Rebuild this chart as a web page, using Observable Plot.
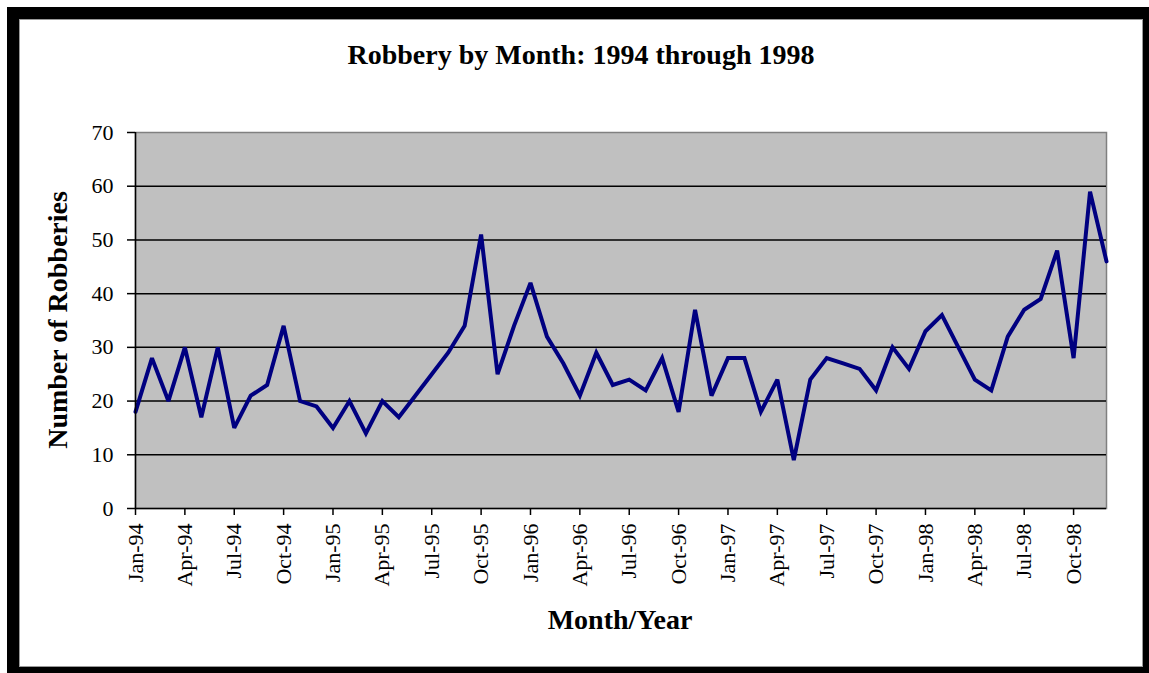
<!DOCTYPE html>
<html>
<head>
<meta charset="utf-8">
<script src="https://cdn.jsdelivr.net/npm/d3@7"></script>
<script src="https://cdn.jsdelivr.net/npm/@observablehq/plot@0.6"></script>
<style>
  body { margin: 0; background: #fff; }
  #wrap { position: relative; width: 1149px; height: 673px; overflow: hidden; background: #fff;
          font-family: "Liberation Serif", "Times New Roman", serif; color: #000; }
  #frame { position: absolute; left: 7px; top: 7px; width: 1142px; height: 666px; box-sizing: border-box;
           border-left: 12px solid #000; border-top: 12px solid #000; border-right: 6px solid #000; border-bottom: 6px solid #000; }
  #inner { position: absolute; left: 0; top: 0; right: 0; bottom: 0; border: 1px solid #9a9a9a; }
  #chart { position: absolute; left: 0; top: 0; }
  .ttl { position: absolute; font-weight: bold; font-size: 28px; line-height: 1; white-space: nowrap; text-align: center; }
  #title { left: 281px; width: 600px; top: 41px; }
  #xtitle { left: 420px; width: 400px; top: 606px; }
  #ytitle { left: -142px; width: 400px; top: 306px; transform: rotate(-90deg); transform-origin: 50% 50%; }
</style>
</head>
<body>
<div id="wrap">
  <div id="frame"><div id="inner"></div></div>
  <div id="chart"></div>
  <div class="ttl" id="title">Robbery by Month: 1994 through 1998</div>
  <div class="ttl" id="xtitle">Month/Year</div>
  <div class="ttl" id="ytitle">Number of Robberies</div>
</div>
<script>
// ---- Data ----
const monthNames = ["Jan","Feb","Mar","Apr","May","Jun","Jul","Aug","Sep","Oct","Nov","Dec"];
const years = ["94","95","96","97","98"];
const robberies1994 = [18, 28, 20, 30, 17, 30, 15, 21, 23, 34, 20, 19];
const robberies1995 = [15, 20, 14, 20, 17, 21, 25, 29, 34, 51, 25, 34];
const robberies1996 = [42, 32, 27, 21, 29, 23, 24, 22, 28, 18, 37, 21];
const robberies1997 = [28, 28, 18, 24, 9, 24, 28, 27, 26, 22, 30, 26];
const robberies1998 = [33, 36, 30, 24, 22, 32, 37, 39, 48, 28, 59, 46];
const yTicks = [0, 10, 20, 30, 40, 50, 60, 70];
const gridValues = [10, 20, 30, 40, 50, 60];

// ---- Build table ----
const series = [robberies1994, robberies1995, robberies1996, robberies1997, robberies1998];
const monthLabels = years.flatMap(y => monthNames.map(m => `${m}-${y}`));
const data = series.flat().map((v, i) => ({month: monthLabels[i], value: v}));
const xTicks = monthLabels.filter((d, i) => i % 3 === 0);

const chart = Plot.plot({
  width: 1149,
  height: 673,
  marginLeft: 135,
  marginRight: 43,
  marginTop: 132,
  marginBottom: 165,
  style: {background: "transparent", fontFamily: "'Liberation Serif', 'Times New Roman', serif", fontSize: "22px", color: "#000", overflow: "visible"},
  x: {type: "point", domain: monthLabels, padding: 0, round: false},
  y: {domain: [0, 70]},
  marks: [
    Plot.frame({fill: "#c0c0c0", stroke: "#808080", strokeWidth: 1.5}),
    Plot.ruleY(gridValues, {stroke: "#000", strokeWidth: 1.5}),
    Plot.lineY(data, {x: "month", y: "value", stroke: "#000080", strokeWidth: 4, strokeLinejoin: "miter", strokeMiterlimit: 3}),
    Plot.ruleX([monthLabels[0]], {stroke: "#000", strokeWidth: 1.5}),
    Plot.ruleY([0], {stroke: "#000", strokeWidth: 1.5}),
    Plot.axisY({ticks: yTicks, tickSize: 8, tickPadding: 14, label: null, stroke: "#000", strokeWidth: 1.5, fill: "#000"}),
    Plot.axisX({ticks: xTicks, tickSize: 7, tickPadding: 8, tickRotate: -90, label: null, stroke: "#000", strokeWidth: 1.5, fill: "#000"})
  ]
});
document.getElementById("chart").appendChild(chart);
</script>
</body>
</html>
